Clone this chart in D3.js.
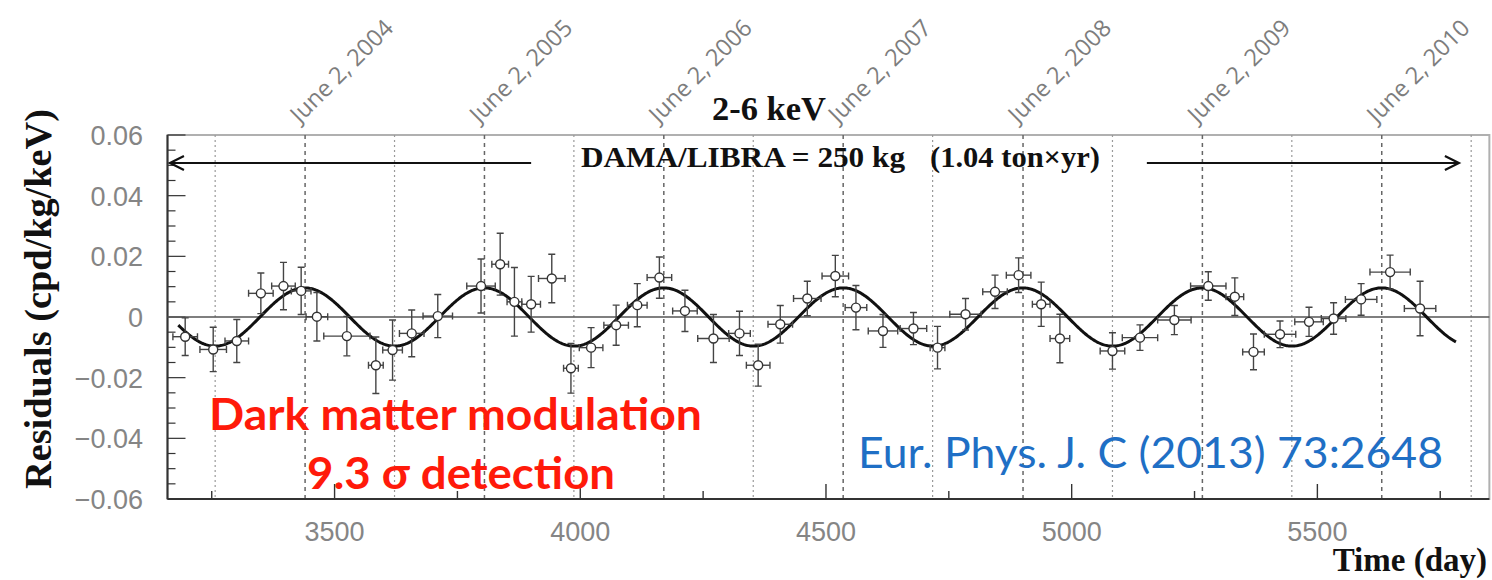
<!DOCTYPE html>
<html>
<head>
<meta charset="utf-8">
<script src="https://cdn.jsdelivr.net/npm/d3@7"></script>
<style>
  html, body { margin: 0; padding: 0; background: #fff; }
  svg { display: block; }
</style>
</head>
<body>
<svg id="chart" width="1492" height="580"></svg>
<script>
// Residual rate in the 2-6 keV window, DAMA/LIBRA cycles 1-6
// Bin centre (day), residual (cpd/kg/keV), vertical error, half-width of time bin (day)
const days = [3196, 3253, 3301, 3350, 3396, 3432, 3464, 3525, 3584, 3618,
              3657, 3710, 3798, 3837, 3866, 3900, 3942, 3981, 4022, 4073,
              4116, 4161, 4213, 4271, 4324, 4362, 4407, 4462, 4519, 4561,
              4616, 4678, 4727, 4784, 4844, 4892, 4938, 4976, 5083, 5139,
              5209, 5278, 5332, 5370, 5424, 5483, 5533, 5589, 5648, 5709];
const residuals = [-0.0065, -0.0107, -0.0079, 0.0078, 0.0102, 0.0086, 0.0001, -0.0063, -0.0159, -0.0109,
                   -0.0054, 0.0003, 0.0102, 0.0174, 0.0050, 0.0042, 0.0127, -0.0169, -0.0101, -0.0027,
                   0.0039, 0.0130, 0.0020, -0.0071, -0.0054, -0.0159, -0.0024, 0.0061, 0.0135, 0.0031,
                   -0.0046, -0.0038, -0.0101, 0.0009, 0.0083, 0.0138, 0.0042, -0.0071, -0.0112, -0.0068,
                   -0.0010, 0.0102, 0.0067, -0.0115, -0.0057, -0.0016, -0.0005, 0.0058, 0.0148, 0.0028];
const errors = [0.0062, 0.0073, 0.0071, 0.0067, 0.0078, 0.0078, 0.0080, 0.0065, 0.0093, 0.0099,
                0.0077, 0.0071, 0.0089, 0.0102, 0.0113, 0.0092, 0.0080, 0.0082, 0.0066, 0.0066,
                0.0071, 0.0068, 0.0068, 0.0079, 0.0073, 0.0069, 0.0062, 0.0057, 0.0068, 0.0073,
                0.0054, 0.0053, 0.0070, 0.0052, 0.0055, 0.0057, 0.0073, 0.0080, 0.0060, 0.0042,
                0.0048, 0.0047, 0.0062, 0.0059, 0.0044, 0.0048, 0.0052, 0.0052, 0.0056, 0.0090];
const binHalfWidths = [25, 27, 24, 25, 24, 20, 22, 47, 15, 20,
                       25, 30, 29, 17, 15, 19, 27, 15, 24, 25,
                       20, 25, 25, 32, 22, 24, 25, 28, 27, 22,
                       30, 27, 15, 32, 25, 25, 18, 20, 25, 36,
                       34, 36, 18, 22, 32, 29, 25, 32, 41, 32];

// Fitted modulation A*cos(2*pi/T*(t - t0)), t0 = June 2
const fitAmplitude = 0.0096;
const fitPeriod = 365.25;
const fitPhaseDay = 3439.5;
const fitRange = [3182, 5782];

// Reference dates
const juneDays = [3440, 3805, 4170, 4535, 4901, 5266, 5631];
const juneLabels = ["June 2, 2004", "June 2, 2005", "June 2, 2006", "June 2, 2007",
                    "June 2, 2008", "June 2, 2009", "June 2, 2010"];
const decemberDays = [3257, 3622, 3987, 4352, 4717, 5083, 5448, 5813];

const xTicks = [3500, 4000, 4500, 5000, 5500];
const xTickLabels = ["3500", "4000", "4500", "5000", "5500"];
const yTicks = [-0.06, -0.04, -0.02, 0, 0.02, 0.04, 0.06];
const yTickLabels = ["\u22120.06", "\u22120.04", "\u22120.02", "0", "0.02", "0.04", "0.06"];

// Exposure arrows span (day)
const arrowLeft = [3165, 3900];
const arrowRight = [5153, 5788];

(function draw() {
  const svg = d3.select("#chart");
  const xDomain = [3160, 5850];
  const fL = 167.5, fT = 135, fB = 499;
  const pxPerDay = 0.4914;
  const fR = fL + (xDomain[1] - xDomain[0]) * pxPerDay;

  const x = d3.scaleLinear().domain(xDomain).range([fL, fR]);
  const y = d3.scaleLinear().domain([-0.06, 0.06]).range([fB, fT]);

  const serif = "'Liberation Serif', 'Times New Roman', serif";
  const sans = "'Liberation Sans', Arial, sans-serif";
  const human = "Lato, 'Open Sans', sans-serif";
  const gray = "#858585";

  // Frame
  svg.append("rect")
    .attr("x", fL).attr("y", fT)
    .attr("width", fR - fL).attr("height", fB - fT)
    .attr("fill", "none").attr("stroke", "#b0b0b0").attr("stroke-width", 2);

  // Reference verticals
  svg.append("g").selectAll("line").data(decemberDays).join("line")
    .attr("x1", d => x(d)).attr("x2", d => x(d))
    .attr("y1", fT).attr("y2", fB)
    .attr("stroke", "#9a9a9a").attr("stroke-width", 1.2)
    .attr("stroke-dasharray", "2,3");
  svg.append("g").selectAll("line").data(juneDays).join("line")
    .attr("x1", d => x(d)).attr("x2", d => x(d))
    .attr("y1", fT).attr("y2", fB)
    .attr("stroke", "#666").attr("stroke-width", 1.5)
    .attr("stroke-dasharray", "4,4");

  // June labels, slanted
  svg.append("g").selectAll("text").data(juneDays).join("text")
    .attr("transform", d => `translate(${x(d) - 5},124) rotate(-45)`)
    .attr("font-family", "'Open Sans', sans-serif")
    .attr("font-size", 23.5)
    .attr("fill", "#7d7d7d")
    .text((d, i) => juneLabels[i]);

  // Bottom axis, ticks pointing inward
  const gx = svg.append("g");
  gx.append("line").attr("x1", fL).attr("x2", fR).attr("y1", fB).attr("y2", fB)
    .attr("stroke", "#333").attr("stroke-width", 2);
  gx.selectAll("line.tick").data(d3.range(3250, xDomain[1], 250)).join("line")
    .attr("class", "tick")
    .attr("x1", d => x(d)).attr("x2", d => x(d))
    .attr("y1", fB).attr("y2", d => fB - (d % 500 === 0 ? 15 : 8))
    .attr("stroke", "#333").attr("stroke-width", 1.4);
  gx.selectAll("text").data(xTicks).join("text")
    .attr("x", d => x(d)).attr("y", 541)
    .attr("text-anchor", "middle")
    .attr("font-family", sans).attr("font-size", 27).attr("fill", gray)
    .text((d, i) => xTickLabels[i]);

  // Left axis
  const gy = svg.append("g");
  gy.append("line").attr("x1", fL).attr("x2", fL).attr("y1", fT).attr("y2", fB)
    .attr("stroke", "#333").attr("stroke-width", 2);
  const yMinor = d3.range(-60, 61, 5).map(v => v / 1000);
  gy.selectAll("line.tick").data(yMinor).join("line")
    .attr("class", "tick")
    .attr("x1", fL).attr("x2", d => fL + (Math.abs(Math.round(d * 1000)) % 20 === 0 ? 18 : 8))
    .attr("y1", d => y(d)).attr("y2", d => y(d))
    .attr("stroke", "#333").attr("stroke-width", 1.2);
  gy.selectAll("text").data(yTicks).join("text")
    .attr("x", 143).attr("y", d => y(d) + 10)
    .attr("text-anchor", "end")
    .attr("font-family", sans).attr("font-size", 27).attr("fill", gray)
    .text((d, i) => yTickLabels[i]);

  // Zero line
  svg.append("line")
    .attr("x1", fL).attr("x2", fR).attr("y1", y(0)).attr("y2", y(0))
    .attr("stroke", "#555").attr("stroke-width", 1.6);

  // Exposure arrows
  function arrow(x1, x2, yy, headAt) {
    const g = svg.append("g").attr("stroke", "#111").attr("stroke-width", 2.2).attr("fill", "none");
    g.append("line").attr("x1", x1).attr("x2", x2).attr("y1", yy).attr("y2", yy);
    const hx = headAt === "left" ? x1 : x2;
    const s = headAt === "left" ? 1 : -1;
    g.append("path").attr("d", `M${hx + s * 14},${yy - 7} L${hx},${yy} L${hx + s * 14},${yy + 7}`);
  }
  const arrowY = 163;
  arrow(x(arrowLeft[0]), x(arrowLeft[1]), arrowY, "left");
  arrow(x(arrowRight[0]), x(arrowRight[1]), arrowY, "right");

  // Exposure label
  svg.append("text").attr("x", 581).attr("y", 167)
    .attr("font-family", serif).attr("font-weight", "bold").attr("font-size", 29)
    .attr("textLength", 324).attr("lengthAdjust", "spacingAndGlyphs")
    .attr("fill", "#111")
    .text("DAMA/LIBRA = 250 kg");
  svg.append("text").attr("x", 930).attr("y", 167)
    .attr("font-family", serif).attr("font-weight", "bold").attr("font-size", 29)
    .attr("textLength", 170).attr("lengthAdjust", "spacingAndGlyphs")
    .attr("fill", "#111")
    .text("(1.04 ton\u00d7yr)");

  // Title
  svg.append("text").attr("x", 712).attr("y", 120)
    .attr("font-family", serif).attr("font-weight", "bold").attr("font-size", 33)
    .attr("textLength", 114).attr("lengthAdjust", "spacingAndGlyphs")
    .attr("fill", "#111")
    .text("2-6 keV");

  // Fit curve
  const curvePts = d3.range(fitRange[0], fitRange[1] + 1, 2).map(t =>
    [t, fitAmplitude * Math.cos(2 * Math.PI / fitPeriod * (t - fitPhaseDay))]);
  svg.append("path")
    .datum(curvePts)
    .attr("fill", "none").attr("stroke", "#111").attr("stroke-width", 3)
    .attr("d", d3.line().x(d => x(d[0])).y(d => y(d[1])));

  // Data points with error bars
  const pts = days.map((d, i) => ({ t: d, v: residuals[i], e: errors[i], w: binHalfWidths[i] }));
  const bars = svg.append("g").selectAll("g").data(pts).join("g")
    .attr("stroke", "#444").attr("stroke-width", 1.4);
  bars.append("line")
    .attr("x1", d => x(d.t)).attr("x2", d => x(d.t))
    .attr("y1", d => y(d.v + d.e)).attr("y2", d => y(d.v - d.e));
  bars.append("line")
    .attr("x1", d => x(d.t - d.w)).attr("x2", d => x(d.t + d.w))
    .attr("y1", d => y(d.v)).attr("y2", d => y(d.v));
  bars.append("path")
    .attr("fill", "none")
    .attr("d", d => {
      const cx = x(d.t), cy = y(d.v), c = 3.5;
      const yt = y(d.v + d.e), yb = y(d.v - d.e);
      const xl = x(d.t - d.w), xr = x(d.t + d.w);
      return `M${cx - c},${yt}H${cx + c}M${cx - c},${yb}H${cx + c}` +
             `M${xl},${cy - c}V${cy + c}M${xr},${cy - c}V${cy + c}`;
    });
  bars.append("circle")
    .attr("cx", d => x(d.t)).attr("cy", d => y(d.v)).attr("r", 4.5)
    .attr("fill", "#fff").attr("stroke", "#333").attr("stroke-width", 1.4);

  // Axis titles
  svg.append("text")
    .attr("transform", "translate(51,299) rotate(-90)")
    .attr("text-anchor", "middle")
    .attr("font-family", serif).attr("font-weight", "bold").attr("font-size", 37)
    .attr("textLength", 380).attr("lengthAdjust", "spacingAndGlyphs")
    .attr("fill", "#111")
    .text("Residuals (cpd/kg/keV)");
  svg.append("text")
    .attr("x", 1487).attr("y", 571).attr("text-anchor", "end")
    .attr("font-family", serif).attr("font-weight", "bold").attr("font-size", 33)
    .attr("fill", "#111")
    .text("Time (day)");

  // Annotations
  svg.append("text").attr("x", 209).attr("y", 430)
    .attr("font-family", human).attr("font-weight", "bold")
    .attr("font-size", 43).attr("fill", "#ff1a0a")
    .attr("textLength", 493).attr("lengthAdjust", "spacingAndGlyphs")
    .text("Dark matter modulation");
  svg.append("text").attr("x", 307).attr("y", 489)
    .attr("font-family", human).attr("font-weight", "bold")
    .attr("font-size", 43).attr("fill", "#ff1a0a")
    .attr("textLength", 308).attr("lengthAdjust", "spacingAndGlyphs")
    .text("9.3 \u03c3 detection");
  svg.append("text").attr("x", 858).attr("y", 468)
    .attr("font-family", human)
    .attr("font-size", 43).attr("fill", "#1f6fc5")
    .attr("textLength", 585).attr("lengthAdjust", "spacingAndGlyphs")
    .text("Eur. Phys. J. C (2013) 73:2648");
})();
</script>
</body>
</html>
